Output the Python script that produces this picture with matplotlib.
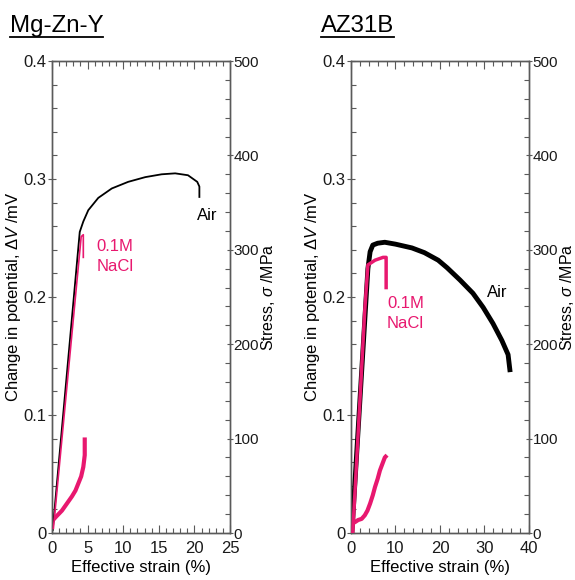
import matplotlib
matplotlib.use('Agg')
import matplotlib.pyplot as plt
from matplotlib.ticker import MultipleLocator
from matplotlib.lines import Line2D

plt.rcParams['font.family'] = ['Liberation Sans', 'DejaVu Sans']
plt.rcParams['mathtext.fontset'] = 'custom'
plt.rcParams['mathtext.rm'] = 'Liberation Sans'
plt.rcParams['mathtext.it'] = 'Liberation Sans:italic'

PINK = '#e8186f'

# Mg-Zn-Y data
mg_air_strain = [0.1, 3.9, 4.4, 5.1, 6.5, 8.4, 10.7, 13.1, 15.4, 17.3, 19.1, 20.4, 20.7, 20.7]
mg_air_stress = [3, 319, 330, 342, 355, 365, 372, 377, 380, 381, 379, 372, 367, 356]
mg_nacl_strain = [0.2, 4.1, 4.4, 4.4]
mg_nacl_stress = [5, 314, 316, 292]
mg_dv_strain = [0.0, 0.6, 1.4, 2.1, 2.8, 3.3, 3.7, 4.1, 4.4, 4.6, 4.6]
mg_dv = [0.010, 0.014, 0.019, 0.025, 0.031, 0.036, 0.042, 0.048, 0.056, 0.066, 0.081]

# AZ31B data
az_air_strain = [0.2, 3.8, 4.3, 4.9, 6.0, 7.6, 10.0, 13.7, 16.5, 19.6, 21.6, 24.5, 27.4, 29.7, 31.9, 33.9, 35.3, 35.7]
az_air_stress = [0, 280, 298, 305, 307, 308, 306, 302, 297, 289, 281, 268, 254, 239, 222, 204, 189, 173]
az_nacl_strain = [0.4, 3.1, 3.8, 5.4, 7.2, 7.8, 7.9, 7.9]
az_nacl_stress = [0, 236, 284, 289, 292, 292, 292, 260]
az_dv_strain = [0.0, 0.8, 1.6, 2.4, 3.1, 3.7, 4.3, 4.9, 5.4, 6.0, 6.5, 7.1, 7.6, 8.1]
az_dv = [0.009, 0.009, 0.011, 0.012, 0.015, 0.019, 0.025, 0.032, 0.039, 0.046, 0.053, 0.059, 0.064, 0.066]

fig = plt.figure(figsize=(5.75, 5.8), dpi=100)

panels = [
    dict(title='Mg-Zn-Y', left=0.0904, xmax=25, xmaj=5, xmin=1, tx=0.017,
         air=(mg_air_strain, mg_air_stress, 1.3, 1.2),
         nacl=(mg_nacl_strain, mg_nacl_stress),
         dv=(mg_dv_strain, mg_dv),
         air_txt=(20.3, 0.269), nacl_txt=(6.3, 0.234)),
    dict(title='AZ31B', left=0.6104, xmax=40, xmaj=10, xmin=2, tx=0.558,
         air=(az_air_strain, az_air_stress, 3.5, 2.5),
         nacl=(az_nacl_strain, az_nacl_stress),
         dv=(az_dv_strain, az_dv),
         air_txt=(30.6, 0.204), nacl_txt=(8.1, 0.186)),
]

for p in panels:
    ax = fig.add_axes([p['left'], 0.081, 0.3096, 0.8138])
    ax2 = ax.twinx()

    ax.set_xlim(0, p['xmax'])
    ax.set_ylim(0, 0.4)
    ax2.set_ylim(0, 500)

    # stress curves on right axis
    s, v, lw, lwn = p['air']
    ax2.plot(s, v, color='black', lw=lw, solid_joinstyle='round')
    ax2.plot(p['nacl'][0], p['nacl'][1], color=PINK, lw=lwn, zorder=3)
    # potential change on left axis
    ax.plot(p['dv'][0], p['dv'][1], color=PINK, lw=3.0, solid_capstyle='butt')

    ax.text(*p['air_txt'], 'Air', fontsize=12, ha='left', va='center')
    ax.text(*p['nacl_txt'], '0.1M\nNaCl', fontsize=12, color=PINK,
            ha='left', va='center', linespacing=1.4)

    ax.xaxis.set_major_locator(MultipleLocator(p['xmaj']))
    ax.xaxis.set_minor_locator(MultipleLocator(p['xmin']))
    ax.yaxis.set_minor_locator(MultipleLocator(0.02))
    ax2.yaxis.set_major_locator(MultipleLocator(100))
    ax2.yaxis.set_minor_locator(MultipleLocator(20))
    ax.set_yticks([0, 0.1, 0.2, 0.3, 0.4], ['0', '0.1', '0.2', '0.3', '0.4'])

    for a in (ax, ax2):
        for sp in a.spines.values():
            sp.set_color('#5a5a5a')
            sp.set_linewidth(1.0)
        a.tick_params(which='both', direction='in', colors='#5a5a5a',
                      labelcolor='#1a1a1a', labelsize=12, width=0.8)
        a.tick_params(which='minor', length=3.5)
    ax.tick_params(axis='x', which='major', length=6, pad=5.5, top=True)
    ax.tick_params(axis='x', which='minor', top=True)
    ax.tick_params(axis='y', which='major', direction='inout', length=6, pad=1)
    ax2.tick_params(axis='y', which='major', direction='inout', length=4,
                    pad=0.5, labelsize=11)

    ax.set_xlabel('Effective strain (%)', fontsize=12, labelpad=3)
    ax.set_ylabel(r'Change in potential, $\mathit{\Delta V}$ /mV', fontsize=12, labelpad=0)
    ax2.set_ylabel(r'Stress, $\mathit{\sigma}$ /MPa', fontsize=11.5)
    ax2.yaxis.set_label_coords(1.165, 0.5)

    p['ttext'] = fig.text(p['tx'], 0.945, p['title'], fontsize=17.3,
                          ha='left', va='baseline')

fig.canvas.draw()
r = fig.canvas.get_renderer()
for p in panels:
    bb = p['ttext'].get_window_extent(r).transformed(fig.transFigure.inverted())
    y = 0.945 - 0.009
    fig.add_artist(Line2D([bb.x0, bb.x1], [y, y], transform=fig.transFigure,
                          color='black', lw=1.3))

fig.savefig('out.png', dpi=100)
